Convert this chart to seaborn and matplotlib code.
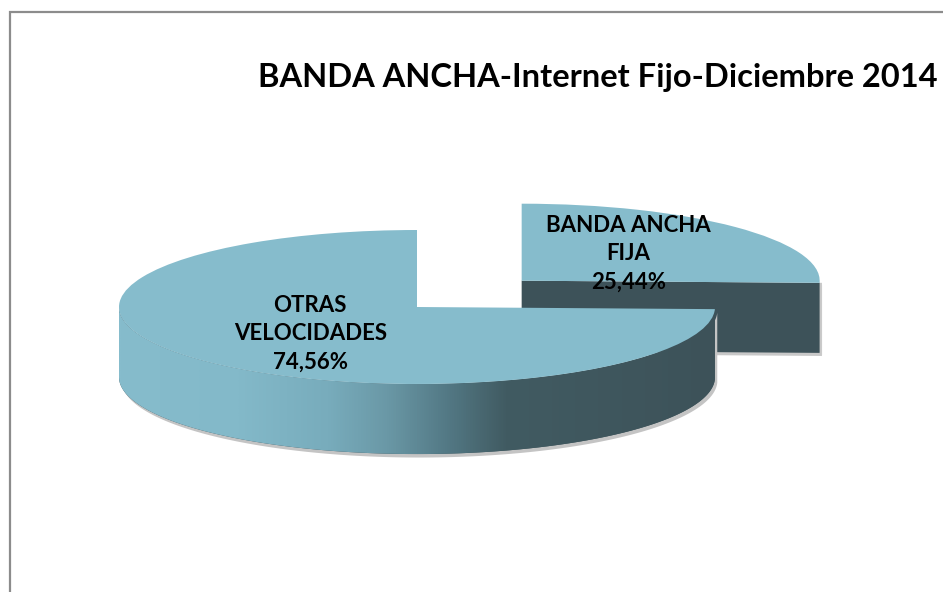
import numpy as np
import matplotlib.pyplot as plt
import seaborn as sns
from matplotlib.patches import Polygon, Rectangle
from matplotlib.colors import LinearSegmentedColormap

# datos del grafico
categorias = ["BANDA ANCHA\nFIJA", "OTRAS\nVELOCIDADES"]
porcentajes = [25.44, 74.56]
titulo = "BANDA ANCHA-Internet Fijo-Diciembre 2014"

color_top = "#86bccc"
color_oscuro = "#3d5259"
profundidad = 0.91  # grosor del "pastel" en unidades y

sns.set_theme(style="white")
plt.rcParams['font.family'] = ['Lato', 'DejaVu Sans']

fig = plt.figure(figsize=(9.43, 5.92), dpi=100)
ax = fig.add_axes([0, 0, 1, 1])

etiquetas = [f"{c}\n{v:.2f}%".replace(".", ",") for c, v in zip(categorias, porcentajes)]
wedges, textos = ax.pie(
    porcentajes, labels=etiquetas, startangle=90, counterclock=False,
    explode=[0.49, 0], colors=[color_top] * 2, labeldistance=0.5,
    textprops=dict(ha='center', va='center', fontsize=16, fontweight='bold',
                   color='black', linespacing=1.45, zorder=6))

# ejes estirados: el circulo se ve como elipse (vista en perspectiva)
ax.set_aspect('auto')
ax.axis('off')


def arco(cx, cy, r, a1, a2, n=300):
    t = np.radians(np.linspace(a1, a2, n))
    return np.column_stack([cx + r * np.cos(t), cy + r * np.sin(t)])


cmap_lado = LinearSegmentedColormap.from_list("lado", [
    (0.0, "#86bccc"), (0.2, "#83b9c9"), (0.35, "#78acbc"),
    (0.45, "#6a98a6"), (0.55, "#537985"), (0.65, "#415b62"), (1.0, "#3d5259")])

for i, w in enumerate(wedges):
    cx, cy = w.center
    r = w.r
    base = 1 if i == 0 else 3
    w.set_zorder(base + 1)
    w.set_edgecolor('none')

    # cara radial visible (borde de inicio)
    if np.cos(np.radians(w.theta1)) > 1e-6:
        ex = cx + r * np.cos(np.radians(w.theta1))
        ey = cy + r * np.sin(np.radians(w.theta1))
        cara = Polygon([(cx, cy), (ex, ey), (ex, ey - profundidad), (cx, cy - profundidad)],
                       closed=True, facecolor=color_oscuro, edgecolor='none', zorder=base)
        ax.add_patch(cara)
        sombra = Polygon([(cx, cy - profundidad - 0.04), (ex + 0.008, ey - profundidad - 0.04),
                          (ex + 0.008, ey), (ex, ey)],
                         closed=True, facecolor='#c8c8c8', edgecolor='none', zorder=base - 0.5)
        ax.add_patch(sombra)

    # lateral frontal
    a1 = max(w.theta1, -180)
    a2 = min(w.theta2, 0)
    if a2 <= a1:
        continue
    arriba = arco(cx, cy, r, a1, a2)
    abajo = arco(cx, cy - profundidad, r, a2, a1)
    pts = np.vstack([arriba, abajo])

    sombra = Polygon(pts + np.array([0.008, -0.045]), closed=True,
                     facecolor='#c4c4c4', edgecolor='none', zorder=base - 0.5)
    ax.add_patch(sombra)

    lado = Polygon(pts, closed=True, facecolor=color_oscuro, edgecolor='none', zorder=base)
    ax.add_patch(lado)
    if i == 1:
        grad = np.linspace(0, 1, 512).reshape(1, -1)
        img = ax.imshow(grad, cmap=cmap_lado, aspect='auto',
                        extent=[cx - r, cx + r, cy - r - profundidad, cy + r],
                        zorder=base + 0.1, interpolation='bilinear')
        img.set_clip_path(lado)

ax.set_xlim(-417 / 298, 526 / 298)
ax.set_ylim(-285 / 77, 307 / 77)

fig.text(258 / 943, 1 - 78 / 592, titulo, ha='left', va='center',
         fontsize=23.5, fontweight='bold', color='black')

# marco gris del area del grafico
fig.add_artist(Rectangle((10 / 943, -0.1), 1.2, 1.1 - 12 / 592, transform=fig.transFigure,
                         fill=False, edgecolor='#8c8c8c', lw=1.6))

fig.savefig("out.png", dpi=100, facecolor='white')
